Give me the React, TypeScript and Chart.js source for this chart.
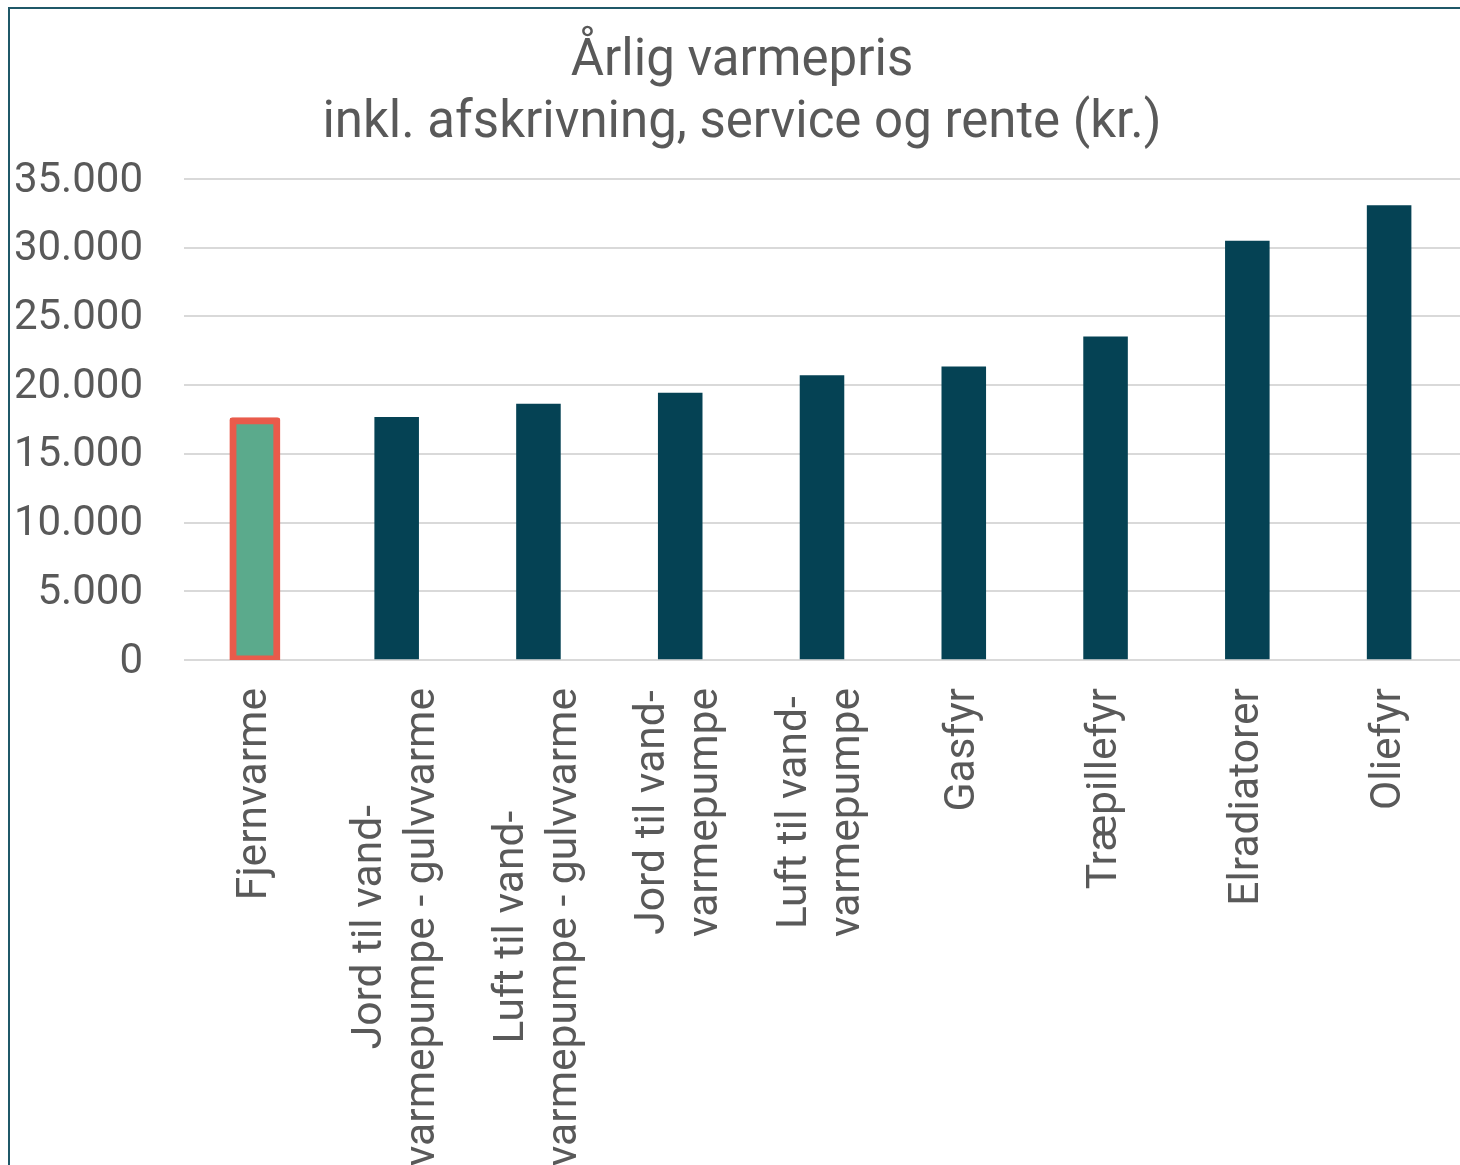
import React, { useEffect, useRef } from "react";
import { Chart, registerables } from "chart.js";

Chart.register(...registerables);

// ---------- data ----------
const categories: string[][] = [
  ["Fjernvarme"],
  ["Jord til vand-", "varmepumpe - gulvvarme"],
  ["Luft til vand-", "varmepumpe - gulvvarme"],
  ["Jord til vand-", "varmepumpe"],
  ["Luft til vand-", "varmepumpe"],
  ["Gasfyr"],
  ["Træpillefyr"],
  ["Elradiatorer"],
  ["Oliefyr"],
];
const values: number[] = [17400, 17660, 18630, 19430, 20690, 21340, 23520, 30490, 33060];
const highlightIndex = 0;
const yMin = 0;
const yMax = 35000;
const yStep = 5000;
const titleLines: string[] = ["Årlig varmepris", "inkl. afskrivning, service og rente (kr.)"];

// ---------- style ----------
const TEXT = "#595959";
const BAR = "#054254";
const HIGHLIGHT = "#5BAA8C";
const HIGHLIGHT_BORDER = "#E95B4B";
const GRID = "#D9D9D9";
const FONT = "Roboto";
const TICK_SIZE = 42;
const LABEL_SIZE = 42.6;
const LABEL_LINE = 53;
const TITLE_SIZE = 51;
const TITLE_LINE = 62;

const formatThousands = (v: number) =>
  String(Math.round(v)).replace(/\B(?=(\d{3})+(?!\d))/g, ".");

const xLabelPlugin = {
  id: "xLabelsRotated",
  afterDraw(chart: any) {
    const { ctx, chartArea } = chart;
    const xScale = chart.scales.x;
    ctx.save();
    ctx.font = `${LABEL_SIZE}px ${FONT}`;
    ctx.fillStyle = TEXT;
    ctx.textAlign = "center";
    ctx.textBaseline = "middle";
    categories.forEach((lines, i) => {
      const px = xScale.getPixelForValue(i);
      const maxW = Math.max(...lines.map((l) => ctx.measureText(l).width));
      lines.forEach((line, j) => {
        const off = (j - (lines.length - 1) / 2) * LABEL_LINE;
        ctx.save();
        ctx.translate(px + off, chartArea.bottom + 28);
        ctx.rotate(-Math.PI / 2);
        ctx.fillText(line, -maxW / 2, 0);
        ctx.restore();
      });
    });
    ctx.restore();
  },
};

const titlePlugin = {
  id: "centeredTitle",
  afterDraw(chart: any) {
    const { ctx } = chart;
    ctx.save();
    ctx.font = `${TITLE_SIZE}px ${FONT}`;
    ctx.fillStyle = TEXT;
    ctx.textAlign = "center";
    ctx.textBaseline = "middle";
    titleLines.forEach((line, i) => {
      ctx.fillText(line, chart.width / 2, 52 + i * TITLE_LINE);
    });
    ctx.restore();
  },
};

export default function App() {
  const canvasRef = useRef<HTMLCanvasElement | null>(null);

  useEffect(() => {
    if (!canvasRef.current) return;
    const bg = values.map((_, i) => (i === highlightIndex ? HIGHLIGHT : BAR));
    const bc = values.map((_, i) => (i === highlightIndex ? HIGHLIGHT_BORDER : BAR));
    const bw = values.map((_, i) => (i === highlightIndex ? 7 : 0));
    const infl = values.map((_, i) => (i === highlightIndex ? 3.5 : 0.3));
    const br = values.map((_, i) => (i === highlightIndex ? 3 : 0));

    const chart = new Chart(canvasRef.current, {
      type: "bar",
      data: {
        labels: categories.map((l) => l.join(" ")),
        datasets: [
          {
            data: values,
            backgroundColor: bg,
            borderColor: bc,
            borderWidth: bw,
            inflateAmount: infl as any,
            borderRadius: br,
            borderSkipped: false,
            barPercentage: 0.31,
            categoryPercentage: 1,
          } as any,
        ],
      },
      options: {
        animation: false,
        responsive: true,
        maintainAspectRatio: false,
        layout: { padding: { left: 0, right: 14, top: 169, bottom: 505 } },
        plugins: {
          legend: { display: false },
          tooltip: { enabled: false },
          title: { display: false },
        },
        scales: {
          x: {
            display: false,
            ticks: { display: false },
            grid: { display: false, drawTicks: false },
            border: { display: false },
          },
          y: {
            min: yMin,
            max: yMax,
            afterFit: (s: any) => {
              s.width = 174;
            },
            ticks: {
              stepSize: yStep,
              padding: 41,
              labelOffset: 2,
              color: TEXT,
              font: { family: FONT, size: TICK_SIZE },
              callback: (v: any) => formatThousands(Number(v)),
            },
            grid: { color: GRID, lineWidth: 2, drawTicks: false },
            border: { display: false },
          },
        },
      },
      plugins: [xLabelPlugin, titlePlugin],
    });
    return () => chart.destroy();
  }, []);

  return (
    <div
      style={{
        position: "fixed",
        left: 0,
        top: 0,
        width: 1460,
        height: 1165,
        overflow: "hidden",
        background: "#ffffff",
      }}
    >
      <div
        style={{
          position: "absolute",
          left: 8,
          top: 7,
          width: 1600,
          height: 1300,
          borderLeft: "2px solid #1F5868",
          borderTop: "2px solid #1F5868",
        }}
      />
      <div
        style={{
          position: "absolute",
          left: 10,
          top: 10,
          width: 1464,
          height: 1155,
        }}
      >
        <canvas ref={canvasRef} />
      </div>
    </div>
  );
}
